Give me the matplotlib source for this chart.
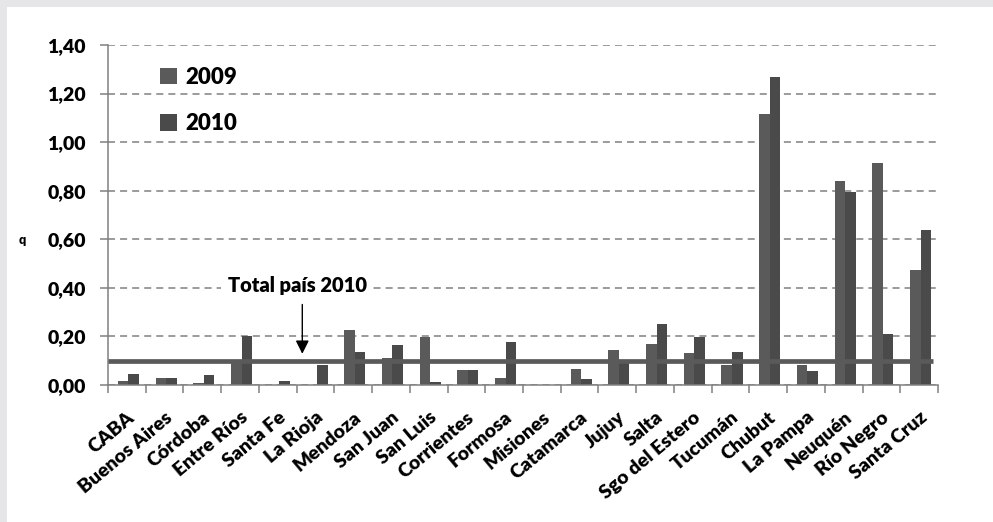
import matplotlib
matplotlib.use('Agg')
import matplotlib.pyplot as plt
import numpy as np
from matplotlib.patches import Rectangle

plt.rcParams['font.family'] = ['Lato', 'DejaVu Sans']
FW = 'heavy'
plt.rcParams['font.weight'] = FW

cats = ["CABA", "Buenos Aires", "Córdoba", "Entre Ríos", "Santa Fe", "La Rioja",
        "Mendoza", "San Juan", "San Luis", "Corrientes", "Formosa", "Misiones",
        "Catamarca", "Jujuy", "Salta", "Sgo del Estero", "Tucumán", "Chubut",
        "La Pampa", "Neuquén", "Río Negro", "Santa Cruz"]
v2009 = [0.016, 0.029, 0.010, 0.095, 0.0, 0.0, 0.225, 0.110, 0.199, 0.063, 0.029, 0.0,
         0.067, 0.144, 0.169, 0.130, 0.082, 1.116, 0.081, 0.840, 0.915, 0.473]
v2010 = [0.047, 0.029, 0.042, 0.200, 0.016, 0.082, 0.137, 0.163, 0.014, 0.063, 0.177, 0.0,
         0.023, 0.103, 0.251, 0.199, 0.136, 1.269, 0.056, 0.796, 0.210, 0.639]
total_pais = 0.098
series_labels = ["2009", "2010"]
yticks = [0.0, 0.2, 0.4, 0.6, 0.8, 1.0, 1.2, 1.4]
ytick_labels = ["0,00", "0,20", "0,40", "0,60", "0,80", "1,00", "1,20", "1,40"]
annot_text = "Total país 2010"

W, H = 993, 522
fig = plt.figure(figsize=(W / 100, H / 100), dpi=100)
fig.patch.set_facecolor('white')
gray_bg = '#e6e6e8'
fig.patches.append(Rectangle((0, 0), 7 / W, 1, transform=fig.transFigure,
                             facecolor=gray_bg, edgecolor='none', zorder=-10))
fig.patches.append(Rectangle((0, 1 - 7 / H), 1, 7 / H, transform=fig.transFigure,
                             facecolor=gray_bg, edgecolor='none', zorder=-10))

ax = fig.add_axes([108 / W, 1 - 385 / H, 830 / W, 340 / H])
x = np.arange(len(cats))
w = 0.28
off = 0.04
ax.bar(x - w / 2 + off, v2009, w, color='#5a5a5a', label=series_labels[0], zorder=2)
ax.bar(x + w / 2 + off, v2010, w, color='#4a4a4a', label=series_labels[1], zorder=2)
ax.plot([-0.5, 21.38], [total_pais, total_pais], color='#5a5a5a', lw=3.4,
        solid_capstyle='butt', zorder=3)

ax.set_xlim(-0.5, len(cats) - 0.5)
ax.set_ylim(0, 1.4)
ax.set_yticks(yticks)
ax.set_yticklabels(ytick_labels, fontsize=14, fontweight=FW)
ax.yaxis.grid(True, linestyle=(0, (4.6, 3.3)), color='#808080', lw=1.1)
ax.set_axisbelow(True)
for s in ['top', 'right']:
    ax.spines[s].set_visible(False)
for s in ['left', 'bottom']:
    ax.spines[s].set_color('#808080')
    ax.spines[s].set_linewidth(1.1)
ax.tick_params(axis='y', length=6, width=1.1, color='#808080', pad=10)

ax.set_xticks(x)
ax.set_xticklabels(cats, rotation=40, ha='right', rotation_mode='anchor',
                   fontsize=14, fontweight=FW)
ax.tick_params(axis='x', which='major', length=0, pad=17)
ax.set_xticks(np.arange(-0.5, len(cats), 1), minor=True)
ax.tick_params(axis='x', which='minor', length=6, width=1.1, color='#808080')

leg = ax.legend(loc='upper left', bbox_to_anchor=(0.063, 0.935), frameon=False,
                prop={'size': 16, 'weight': FW}, handlelength=0.75, handleheight=0.75,
                handletextpad=0.4, labelspacing=1.13, borderpad=0, borderaxespad=0)

ax.annotate('', xy=(4.65, 0.117), xytext=(4.65, 0.343),
            arrowprops=dict(arrowstyle='-|>', color='black', lw=1, mutation_scale=20),
            zorder=5)
ax.text(4.51, 0.384, annot_text, ha='center', va='baseline', fontsize=14.5,
        fontweight=FW, zorder=5,
        bbox=dict(facecolor='white', edgecolor='none', pad=5))

fig.text(22 / W, 1 - 240 / H, 'q', fontsize=9, ha='center', va='center')

fig.savefig('out.png', dpi=100, facecolor=fig.get_facecolor())
